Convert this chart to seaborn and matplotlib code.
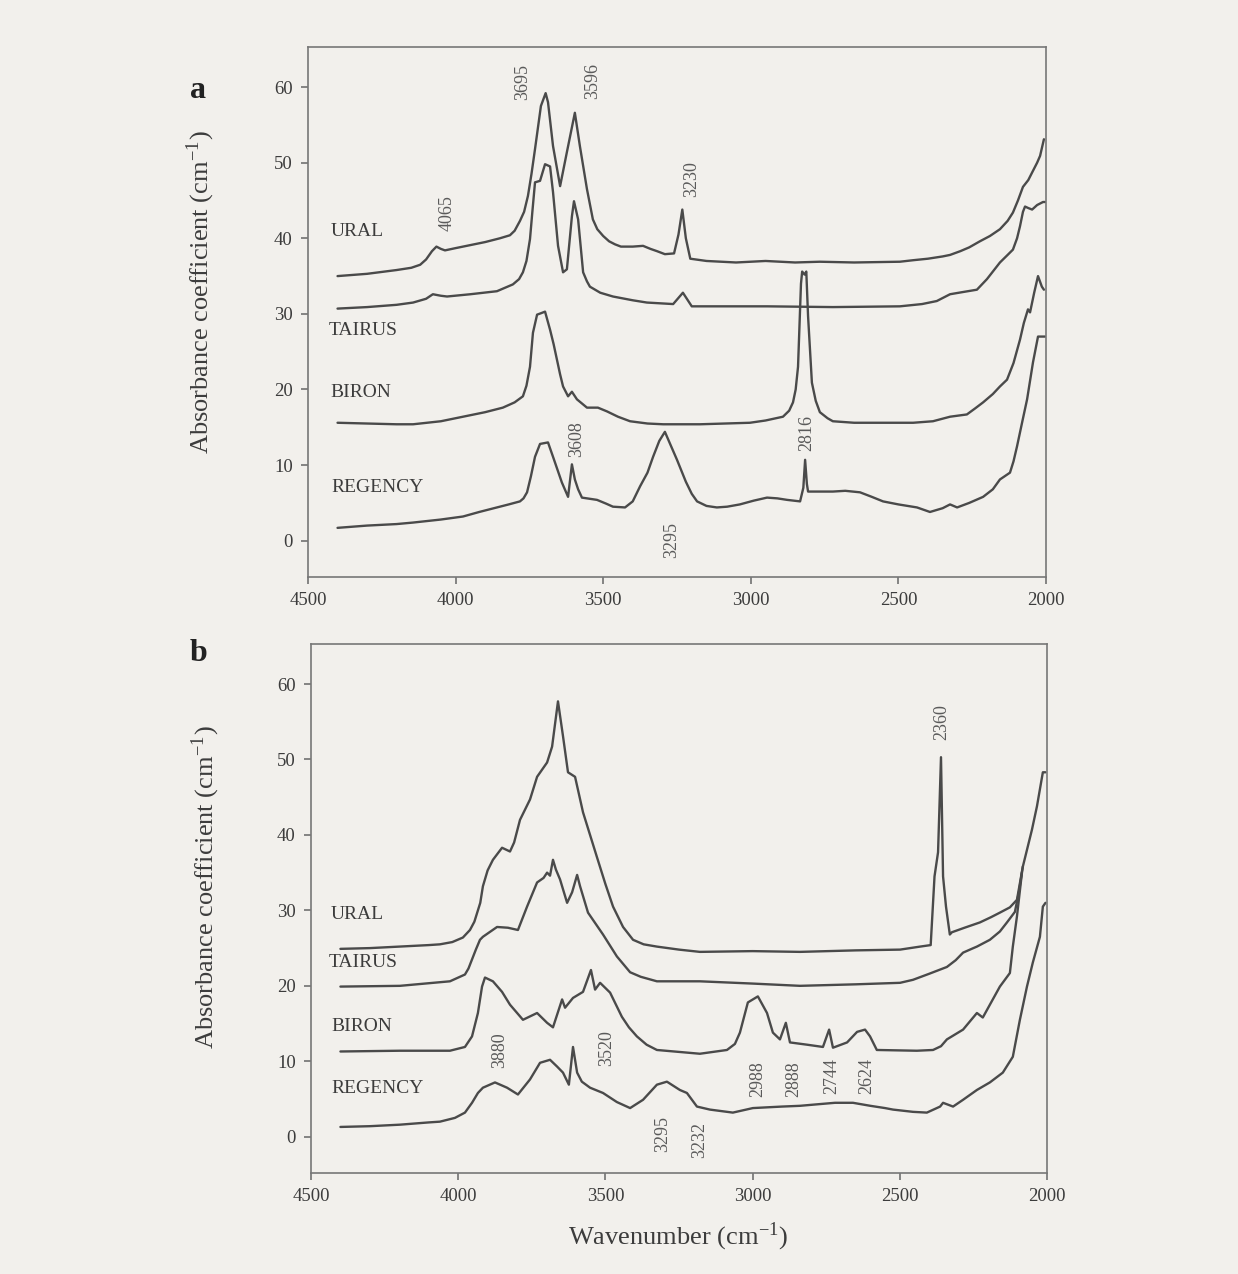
import numpy as np
import pandas as pd
import matplotlib
matplotlib.use("Agg")
import matplotlib.pyplot as plt
import seaborn as sns

# -------------------------------
# Spectra (wavenumber cm-1, absorbance coefficient cm-1)
# -------------------------------
samples = ["URAL", "TAIRUS", "BIRON", "REGENCY"]

# panel a
a_ural_wn = [4400, 4300, 4200, 4150, 4120, 4100, 4080, 4065, 4050, 4036, 4000, 3950, 3900, 3850,
             3816, 3800, 3782, 3768, 3755, 3743, 3731, 3711, 3695, 3687, 3670, 3646, 3623, 3596,
             3579, 3555, 3535, 3520, 3500, 3480, 3460, 3440, 3400, 3365, 3340, 3318, 3291, 3260,
             3245, 3232, 3220, 3205, 3150, 3050, 2950, 2850, 2766, 2650, 2495, 2450, 2400, 2350,
             2325, 2290, 2260, 2224, 2190, 2156, 2130, 2112, 2095, 2078, 2060, 2047, 2030, 2020,
             2007]
a_ural_v = [35.0, 35.3, 35.8, 36.1, 36.5, 37.2, 38.3, 38.9, 38.6, 38.4, 38.7, 39.1, 39.5, 40.0,
            40.4, 41.0, 42.3, 43.5, 45.6, 48.5, 51.8, 57.5, 59.2, 58.0, 52.2, 46.9, 51.4, 56.6,
            52.2, 46.5, 42.5, 41.2, 40.3, 39.6, 39.2, 38.9, 38.9, 39.0, 38.6, 38.3, 37.9, 38.0,
            40.5, 43.8, 40.0, 37.3, 37.0, 36.8, 37.0, 36.8, 36.9, 36.8, 36.9, 37.1, 37.3, 37.6,
            37.8, 38.3, 38.8, 39.6, 40.3, 41.2, 42.3, 43.4, 45.0, 46.8, 47.7, 48.7, 50.0, 50.9,
            53.1]

a_tairus_wn = [4400, 4300, 4200, 4144, 4100, 4077, 4050, 4029, 3950, 3860, 3806, 3785, 3772, 3760,
               3748, 3740, 3731, 3714, 3697, 3680, 3670, 3653, 3636, 3623, 3606, 3599, 3585, 3568,
               3555, 3545, 3510, 3467, 3400, 3352, 3263, 3230, 3200, 2945, 2722, 2495, 2420, 2370,
               2325, 2280, 2234, 2200, 2156, 2130, 2112, 2098, 2088, 2078, 2071, 2060, 2047, 2030,
               2010, 2003]
a_tairus_v = [30.7, 30.9, 31.2, 31.5, 32.0, 32.6, 32.4, 32.3, 32.6, 33.0, 33.9, 34.6, 35.5, 37.0,
              39.9, 43.5, 47.4, 47.6, 49.8, 49.5, 46.1, 39.0, 35.5, 35.9, 42.9, 44.9, 42.5, 35.5,
              34.3, 33.6, 32.8, 32.3, 31.8, 31.5, 31.3, 32.8, 31.0, 31.0, 30.9, 31.0, 31.3, 31.7,
              32.6, 32.9, 33.2, 34.6, 36.8, 37.8, 38.5, 40.0, 41.6, 43.5, 44.2, 44.0, 43.8, 44.4,
              44.8, 44.8]

a_biron_wn = [4400, 4300, 4200, 4144, 4050, 3975, 3900, 3840, 3800, 3772, 3760, 3748, 3738, 3724,
              3710, 3697, 3680, 3668, 3657, 3646, 3636, 3619, 3606, 3589, 3555, 3518, 3487, 3450,
              3409, 3350, 3297, 3172, 3003, 2950, 2891, 2870, 2857, 2848, 2840, 2830, 2826, 2818,
              2812, 2806, 2793, 2780, 2766, 2740, 2722, 2650, 2552, 2450, 2383, 2325, 2268, 2240,
              2213, 2180, 2156, 2132, 2110, 2088, 2075, 2061, 2054, 2040, 2027, 2014, 2007]
a_biron_v = [15.6, 15.5, 15.4, 15.4, 15.8, 16.4, 17.0, 17.6, 18.3, 19.1, 20.5, 23.0, 27.5, 29.9,
             30.1, 30.3, 27.9, 26.0, 24.0, 22.0, 20.4, 19.1, 19.7, 18.7, 17.6, 17.6, 17.1, 16.4,
             15.8, 15.5, 15.4, 15.4, 15.6, 15.9, 16.4, 17.2, 18.3, 20.0, 23.0, 34.0, 35.6, 35.2,
             35.6, 29.7, 20.9, 18.5, 17.0, 16.2, 15.8, 15.6, 15.6, 15.6, 15.8, 16.4, 16.7, 17.5,
             18.3, 19.4, 20.4, 21.3, 23.5, 26.6, 28.8, 30.6, 30.2, 32.8, 35.0, 33.6, 33.2]

a_regency_wn = [4400, 4300, 4200, 4144, 4050, 3975, 3920, 3860, 3820, 3782, 3770, 3758, 3745, 3731,
                3714, 3687, 3670, 3640, 3619, 3606, 3596, 3585, 3572, 3521, 3490, 3467, 3426, 3400,
                3375, 3350, 3331, 3310, 3291, 3270, 3250, 3220, 3200, 3182, 3150, 3115, 3080, 3037,
                2990, 2945, 2910, 2877, 2833, 2822, 2816, 2810, 2806, 2760, 2722, 2680, 2630, 2590,
                2552, 2500, 2437, 2393, 2350, 2325, 2301, 2260, 2213, 2180, 2156, 2122, 2110, 2098,
                2080, 2064, 2044, 2027, 2003]
a_regency_v = [1.7, 2.0, 2.2, 2.4, 2.8, 3.2, 3.8, 4.4, 4.8, 5.2, 5.6, 6.4, 8.5, 11.1,
               12.8, 13.0, 11.1, 7.7, 5.8, 10.1, 8.1, 6.8, 5.7, 5.4, 4.9, 4.5, 4.4, 5.2,
               7.2, 9.0, 11.1, 13.2, 14.4, 12.5, 10.7, 7.8, 6.2, 5.2, 4.6, 4.4, 4.5, 4.8,
               5.3, 5.7, 5.6, 5.4, 5.2, 7.0, 10.7, 7.5, 6.5, 6.5, 6.5, 6.6, 6.4, 5.8,
               5.2, 4.8, 4.4, 3.8, 4.3, 4.8, 4.4, 5.0, 5.8, 6.8, 8.1, 9.0, 10.5, 12.5,
               15.8, 18.7, 23.6, 27.0, 27.0]

# panel b
b_ural_wn = [4400, 4300, 4200, 4100, 4062, 4020, 3984, 3960, 3945, 3925, 3916, 3900, 3882, 3851,
             3824, 3810, 3790, 3756, 3732, 3698, 3681, 3661, 3644, 3627, 3603, 3576, 3529, 3500,
             3474, 3440, 3406, 3370, 3325, 3250, 3179, 3000, 2839, 2650, 2499, 2431, 2395, 2382,
             2370, 2360, 2353, 2343, 2330, 2323, 2280, 2228, 2190, 2160, 2126, 2102, 2082, 2051,
             2034, 2014, 2005]
b_ural_v = [24.9, 25.0, 25.2, 25.4, 25.5, 25.8, 26.4, 27.4, 28.5, 31.0, 33.2, 35.3, 36.7, 38.3,
            37.8, 39.0, 42.0, 44.7, 47.7, 49.6, 51.7, 57.7, 53.1, 48.3, 47.7, 43.0, 37.1, 33.5,
            30.5, 27.8, 26.1, 25.5, 25.2, 24.8, 24.5, 24.6, 24.5, 24.7, 24.8, 25.2, 25.4, 34.5,
            37.7, 50.3, 34.5, 30.5, 26.8, 27.1, 27.7, 28.4, 29.1, 29.7, 30.4, 31.4, 35.8, 40.7,
            43.8, 48.3, 48.3]

b_tairus_wn = [4400, 4198, 4028, 3977, 3965, 3953, 3940, 3926, 3916, 3868, 3831, 3797, 3766, 3732,
               3710, 3698, 3688, 3678, 3668, 3654, 3630, 3613, 3596, 3586, 3559, 3508, 3461, 3416,
               3380, 3325, 3179, 3000, 2839, 2650, 2499, 2455, 2400, 2340, 2310, 2285, 2250, 2238,
               2194, 2160, 2136, 2109, 2095, 2082]
b_tairus_v = [19.9, 20.0, 20.6, 21.5, 22.3, 23.5, 24.8, 26.1, 26.5, 27.8, 27.7, 27.4, 30.5, 33.7,
              34.3, 35.0, 34.6, 36.7, 35.4, 34.1, 31.0, 32.4, 34.7, 33.2, 29.7, 26.8, 23.9, 21.8,
              21.2, 20.6, 20.6, 20.3, 20.0, 20.2, 20.4, 20.8, 21.6, 22.5, 23.4, 24.4, 25.0, 25.2,
              26.1, 27.2, 28.4, 29.8, 32.5, 35.8]

b_biron_wn = [4400, 4198, 4028, 3977, 3953, 3933, 3919, 3909, 3882, 3851, 3824, 3780, 3732, 3698,
              3678, 3647, 3637, 3610, 3576, 3549, 3535, 3518, 3484, 3444, 3420, 3393, 3360, 3325,
              3179, 3087, 3060, 3043, 3016, 2982, 2951, 2931, 2907, 2887, 2873, 2815, 2761, 2740,
              2727, 2679, 2645, 2618, 2601, 2578, 2442, 2387, 2360, 2340, 2285, 2238, 2218, 2160,
              2126, 2116, 2102, 2085]
b_biron_v = [11.3, 11.4, 11.4, 11.9, 13.3, 16.4, 19.9, 21.1, 20.6, 19.2, 17.5, 15.5, 16.4, 15.1,
             14.5, 18.2, 17.1, 18.4, 19.2, 22.1, 19.5, 20.4, 19.1, 15.9, 14.5, 13.3, 12.2, 11.5,
             11.0, 11.5, 12.3, 13.8, 17.8, 18.6, 16.4, 13.8, 12.9, 15.1, 12.5, 12.2, 11.9, 14.2,
             11.8, 12.5, 13.9, 14.2, 13.3, 11.5, 11.4, 11.5, 12.0, 12.9, 14.2, 16.4, 15.8, 19.9,
             21.7, 25.2, 29.2, 35.0]

b_regency_wn = [4400, 4300, 4198, 4100, 4062, 4011, 3977, 3953, 3933, 3916, 3875, 3834, 3797, 3756,
                3722, 3688, 3664, 3644, 3624, 3610, 3596, 3580, 3552, 3508, 3461, 3416, 3372, 3325,
                3291, 3247, 3223, 3189, 3145, 3067, 2999, 2950, 2900, 2839, 2780, 2720, 2659, 2600,
                2550, 2523, 2455, 2408, 2363, 2353, 2319, 2285, 2238, 2194, 2150, 2116, 2092, 2068,
                2048, 2024, 2014, 2005]
b_regency_v = [1.3, 1.4, 1.6, 1.9, 2.0, 2.5, 3.2, 4.5, 5.8, 6.5, 7.2, 6.5, 5.6, 7.6,
               9.8, 10.2, 9.3, 8.5, 6.9, 11.9, 8.5, 7.3, 6.5, 5.8, 4.6, 3.8, 4.9, 6.9,
               7.3, 6.2, 5.8, 4.0, 3.6, 3.2, 3.8, 3.9, 4.0, 4.1, 4.3, 4.5, 4.5, 4.1,
               3.8, 3.6, 3.3, 3.2, 4.0, 4.5, 4.0, 4.9, 6.2, 7.2, 8.5, 10.6, 15.5, 19.9,
               23.1, 26.5, 30.5, 31.0]

# sample name labels (wavenumber, absorbance)
a_name_wn = [4425, 4430, 4425, 4420]
a_name_v = [40.9, 27.8, 19.6, 7.0]
b_name_wn = [4432, 4440, 4432, 4432]
b_name_v = [29.4, 23.1, 14.6, 6.4]

# peak annotations (label, wavenumber of label, height of label centre)
a_peaks = ["4065", "3695", "3596", "3230", "3608", "3295", "2816"]
a_peak_wn = [4029, 3772, 3535, 3199, 3589, 3267, 2810]
a_peak_v = [43.4, 60.7, 60.8, 47.8, 13.4, 0.1, 14.3]
b_peaks = ["2360", "3880", "3520", "3295", "3232", "2988", "2888", "2744", "2624"]
b_peak_wn = [2357, 3858, 3495, 3304, 3179, 2982, 2859, 2730, 2611]
b_peak_v = [55.0, 11.5, 11.8, 0.3, -0.4, 7.6, 7.6, 8.0, 8.0]

panel_a = {"URAL": (a_ural_wn, a_ural_v), "TAIRUS": (a_tairus_wn, a_tairus_v),
           "BIRON": (a_biron_wn, a_biron_v), "REGENCY": (a_regency_wn, a_regency_v)}
panel_b = {"URAL": (b_ural_wn, b_ural_v), "TAIRUS": (b_tairus_wn, b_tairus_v),
           "BIRON": (b_biron_wn, b_biron_v), "REGENCY": (b_regency_wn, b_regency_v)}

# -------------------------------
# Style
# -------------------------------
bg = "#f2f0ec"
line_col = "#4a4a4a"
text_col = "#3c3c3c"

sns.set_theme(style="ticks")
plt.rcParams["font.family"] = ["Liberation Serif", "DejaVu Serif"]
plt.rcParams["mathtext.fontset"] = "stix"

fig = plt.figure(figsize=(12.38, 12.74), dpi=100, facecolor=bg)
ax_a = fig.add_axes([0.2488, 0.5471, 0.5961, 0.4160])
ax_b = fig.add_axes([0.2512, 0.0793, 0.5945, 0.4152])

ylab = r"Absorbance coefficient (cm$^{\mathregular{-1}}$)"


def draw_panel(ax, spectra, name_wn, name_v, peaks, peak_wn, peak_v):
    ax.set_facecolor(bg)
    for s in samples:
        wn, v = spectra[s]
        df = pd.DataFrame({"wn": wn, "v": v})
        sns.lineplot(data=df, x="wn", y="v", ax=ax, color=line_col, lw=1.7,
                     sort=False, estimator=None)
    for s, x, y in zip(samples, name_wn, name_v):
        ax.text(x, y, s, ha="left", va="center", fontsize=14, color=text_col)
    for p, x, y in zip(peaks, peak_wn, peak_v):
        ax.text(x, y, p, rotation=90, ha="center", va="center", fontsize=13,
                color="#5a5a5a")
    ax.set_xlim(4500, 2000)
    ax.set_ylim(-4.8, 65.3)
    ax.set_xticks([4500, 4000, 3500, 3000, 2500, 2000])
    ax.set_yticks([0, 10, 20, 30, 40, 50, 60])
    ax.set_xlabel("")
    ax.set_ylabel("")
    ax.tick_params(direction="out", length=5, width=1.1, colors="#666666",
                   labelcolor=text_col, labelsize=13.5, pad=6)
    for sp in ax.spines.values():
        sp.set_visible(True)
        sp.set_color("#777777")
        sp.set_linewidth(1.2)


draw_panel(ax_a, panel_a, a_name_wn, a_name_v, a_peaks, a_peak_wn, a_peak_v)
draw_panel(ax_b, panel_b, b_name_wn, b_name_v, b_peaks, b_peak_wn, b_peak_v)

fig.text(0.160, 0.923, "a", fontsize=23, fontweight="bold", color="#222222",
         ha="center", va="baseline")
fig.text(0.160, 0.481, "b", fontsize=23, fontweight="bold", color="#222222",
         ha="center", va="baseline")
fig.text(0.162, 0.771, ylab, rotation=90, ha="center", va="center", fontsize=19,
         color=text_col)
fig.text(0.166, 0.304, ylab, rotation=90, ha="center", va="center", fontsize=19,
         color=text_col)
fig.text(0.548, 0.029, r"Wavenumber (cm$^{\mathregular{-1}}$)", ha="center", va="center",
         fontsize=19, color=text_col)

fig.savefig("out.png", dpi=100, facecolor=bg)
